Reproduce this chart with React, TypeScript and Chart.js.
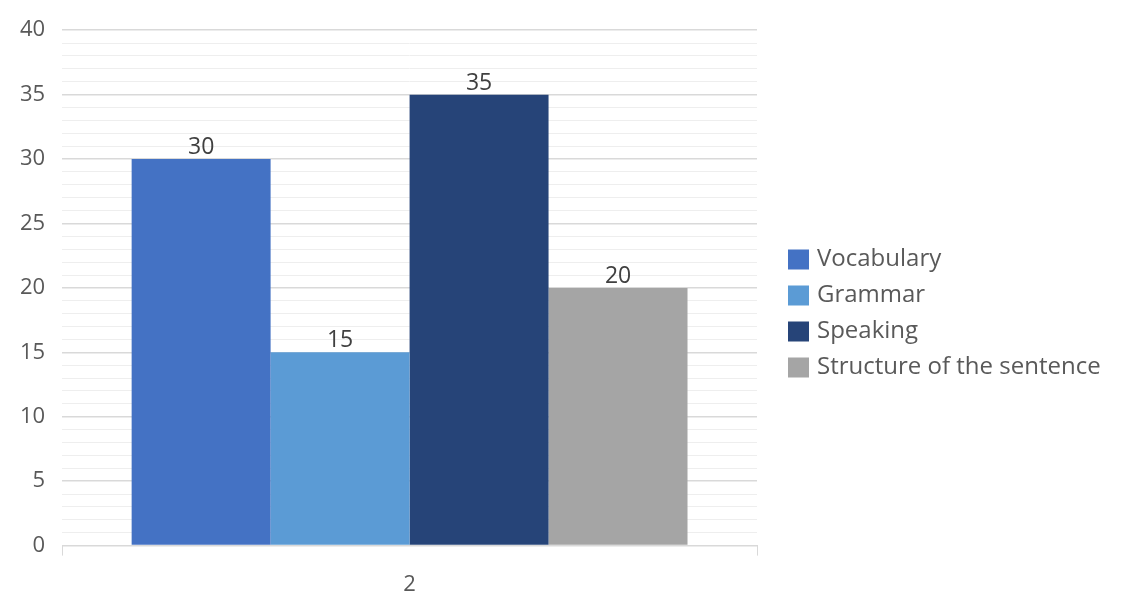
import React, { useEffect, useRef } from "react";
import { Chart, registerables } from "chart.js";

Chart.register(...registerables);

const categories = ["2"];
const seriesNames = ["Vocabulary", "Grammar", "Speaking", "Structure of the sentence"];
const vocabulary = [30];
const grammar = [15];
const speaking = [35];
const structure = [20];
const seriesColors = ["#4472C4", "#5B9BD5", "#264478", "#A5A5A5"];
const yMin = 0;
const yMax = 40;
const yMajorStep = 5;

const FONT = "'Open Sans', 'Noto Sans', sans-serif";
const TEXT = "#595959";

const dataLabelPlugin = {
  id: "dataLabels",
  afterDatasetsDraw(chart: any) {
    const ctx = chart.ctx;
    ctx.save();
    ctx.font = `23px ${FONT}`;
    ctx.fillStyle = "#404040";
    ctx.textAlign = "center";
    ctx.textBaseline = "alphabetic";
    chart.data.datasets.forEach((ds: any, i: number) => {
      const meta = chart.getDatasetMeta(i);
      meta.data.forEach((el: any, j: number) => {
        ctx.fillText(String(ds.data[j]), el.x, el.y - 5);
      });
    });
    ctx.restore();
  },
};

const sideLegendPlugin = {
  id: "sideLegend",
  afterDraw(chart: any) {
    const ctx = chart.ctx;
    const items = chart.data.datasets;
    const rowH = 36;
    const x0 = chart.chartArea.right + 31;
    const centerY = chart.height / 2 + 6;
    const startY = centerY - (items.length * rowH) / 2 + rowH / 2;
    ctx.save();
    ctx.font = `24px ${FONT}`;
    ctx.textBaseline = "middle";
    ctx.textAlign = "left";
    items.forEach((ds: any, i: number) => {
      const cy = startY + i * rowH;
      ctx.fillStyle = ds.backgroundColor;
      ctx.fillRect(x0, cy - 10, 21, 20);
      ctx.fillStyle = TEXT;
      ctx.fillText(ds.label, x0 + 29, cy);
    });
    ctx.restore();
  },
};

export default function App() {
  const ref = useRef<HTMLCanvasElement>(null);
  useEffect(() => {
    document.body.style.margin = "0";
    const seriesValues = [vocabulary, grammar, speaking, structure];
    const chart = new Chart(ref.current as HTMLCanvasElement, {
      type: "bar",
      data: {
        labels: categories,
        datasets: seriesNames.map((name, i) => ({
          label: name,
          data: seriesValues[i],
          backgroundColor: seriesColors[i],
          borderWidth: 0,
          categoryPercentage: 0.8,
          barPercentage: 1,
        })),
      },
      options: {
        animation: false,
        responsive: true,
        maintainAspectRatio: false,
        layout: { padding: { left: 3, top: 16, right: 366, bottom: 1 } },
        plugins: {
          legend: { display: false },
          tooltip: { enabled: false },
        },
        scales: {
          x: {
            grid: {
              display: true,
              drawOnChartArea: false,
              drawTicks: true,
              tickLength: 10,
              color: "#d9d9d9",
              offset: true,
            },
            border: { display: true, color: "#d9d9d9", width: 1 },
            ticks: {
              color: TEXT,
              font: { family: FONT, size: 22 },
              padding: 16,
            },
          },
          y: {
            min: yMin,
            max: yMax,
            ticks: {
              stepSize: 1,
              autoSkip: false,
              color: TEXT,
              font: { family: FONT, size: 22 },
              padding: 17,
              callback: (v: any) => (Number(v) % yMajorStep === 0 ? String(v) : ""),
            },
            grid: {
              drawTicks: false,
              color: (c: any) => (c.tick && c.tick.value % yMajorStep === 0 ? "#d9d9d9" : "#eeeeee"),
              lineWidth: (c: any) => (c.tick && c.tick.value % yMajorStep === 0 ? 1.5 : 1),
            },
            border: { display: false },
          },
        },
      },
      plugins: [dataLabelPlugin, sideLegendPlugin],
    });
    return () => chart.destroy();
  }, []);
  return (
    <div style={{ position: "fixed", left: 0, top: 0, width: 1123, height: 615, background: "#fff" }}>
      <canvas ref={ref} />
    </div>
  );
}
